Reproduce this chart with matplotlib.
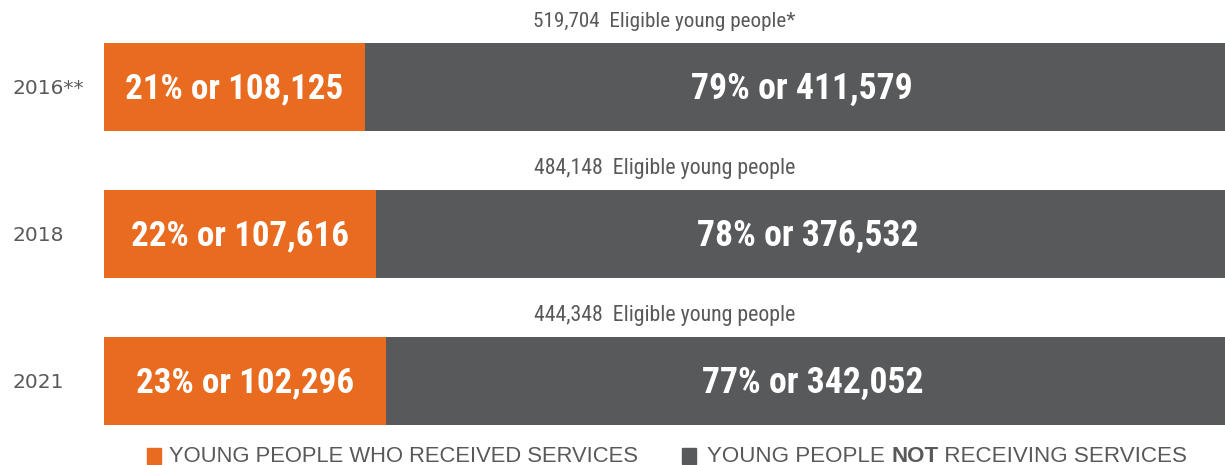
import matplotlib
matplotlib.use("Agg")
import matplotlib.pyplot as plt
from matplotlib import font_manager

# data
years = ["2016**", "2018", "2021"]
received = [108125, 107616, 102296]
not_received = [411579, 376532, 342052]
received_pct = [21, 22, 23]
not_received_pct = [79, 78, 77]
eligible_notes = ["519,704  Eligible young people*",
                  "484,148  Eligible young people",
                  "444,348  Eligible young people"]
# orange share of each bar as drawn in the picture (%)
drawn_share = [23.3, 24.3, 25.2]

ORANGE = "#E86B1F"
GRAY = "#58595B"

# the original uses a very condensed face; take the narrowest one installed
names = {f.name for f in font_manager.fontManager.ttflist}
narrow = "Roboto Condensed" if "Roboto Condensed" in names else "DejaVu Sans"

fig = plt.figure(figsize=(12.25, 4.65), dpi=100)
renderer = fig.canvas.get_renderer()
ax = fig.add_axes([104 / 1225, 0, 1121 / 1225, 1])
ax.set_xlim(0, 100)
ax.set_ylim(2.571, -0.592)
ax.axis("off")


def fit(t, width_px, max_size):
    """shrink/grow a text so it is about width_px wide"""
    w = t.get_window_extent(renderer).width
    t.set_fontsize(min(max_size, t.get_fontsize() * width_px / w))
    return t


ypos = range(len(years))
rest = [100 - s for s in drawn_share]
ax.barh(ypos, drawn_share, height=0.6, color=ORANGE)
ax.barh(ypos, rest, left=drawn_share, height=0.6, color=GRAY)

for i in ypos:
    t = ax.text(drawn_share[i] / 2, i + 0.01, f"{received_pct[i]}% or {received[i]:,}",
                ha="center", va="center", color="white", fontsize=30,
                family=narrow, weight="bold")
    fit(t, 218, 40)
    t = ax.text(drawn_share[i] + rest[i] / 2 + 0.6, i + 0.01,
                f"{not_received_pct[i]}% or {not_received[i]:,}",
                ha="center", va="center", color="white", fontsize=30,
                family=narrow, weight="bold")
    fit(t, 222, 40)
    t = ax.text(50.0, i - 0.445, eligible_notes[i], ha="center", va="center",
                color=GRAY, fontsize=14, family=narrow)
    fit(t, 264, 16)
    fig.text(13 / 1225, 1 - (88 + 147 * i) / 465, years[i], ha="left",
             va="center", color=GRAY, fontsize=14.5, family="DejaVu Sans")

# legend
ly = 1 - 456 / 465
fig.patches.append(plt.Rectangle((147 / 1225, 1 - 464 / 465), 14 / 1225, 16 / 465,
                                 transform=fig.transFigure, color=ORANGE))
t = fig.text(169 / 1225, ly, "YOUNG PEOPLE WHO RECEIVED SERVICES", ha="left",
             va="center", color=GRAY, fontsize=14, family="Liberation Sans")
fit(t, 472, 16)
fig.patches.append(plt.Rectangle((682 / 1225, 1 - 464 / 465), 14 / 1225, 16 / 465,
                                 transform=fig.transFigure, color=GRAY))

# second legend entry has a bold word, so build it from three pieces
parts = [("YOUNG PEOPLE ", "normal"), ("NOT", "bold"), (" RECEIVING SERVICES", "normal")]
pieces = [fig.text(0, ly, p, ha="left", va="center", color=GRAY, fontsize=14,
                   family="Liberation Sans", weight=wt) for p, wt in parts]
total = sum(p.get_window_extent(renderer).width for p in pieces)
x = 707
for p in pieces:
    p.set_fontsize(14 * 481 / total)
    p.set_x(x / 1225)
    x += p.get_window_extent(renderer).width

fig.savefig("out.png", dpi=100)
